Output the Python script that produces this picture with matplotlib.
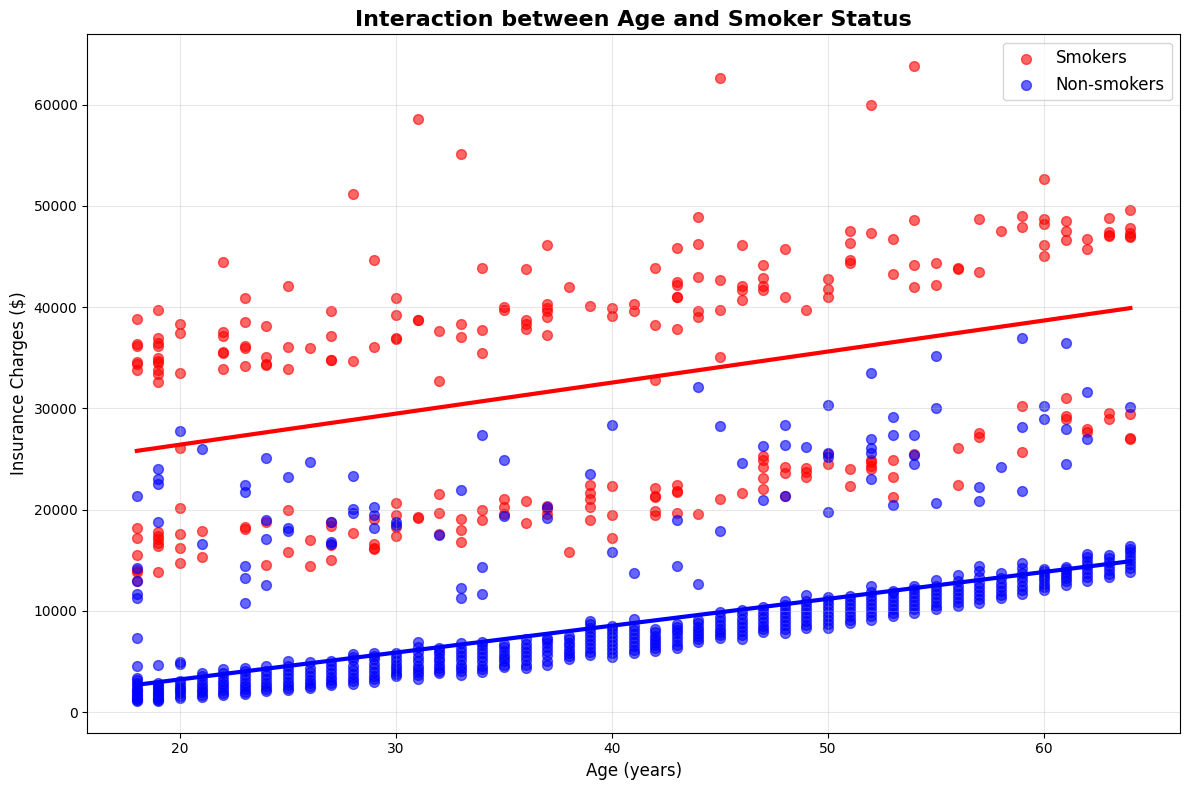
import numpy as np
import matplotlib
matplotlib.use("Agg")
import matplotlib.pyplot as plt

# smokers: ages and charges
smoker_age = [
    18, 18, 18, 18, 18, 18, 18, 18, 18, 18, 18, 18,
    19, 19, 19, 19, 19, 19, 19, 19, 19, 19, 19, 19, 19, 19, 19, 19,
    20, 20, 20, 20, 20, 20, 20, 20,
    21, 21,
    22, 22, 22, 22, 22, 22,
    23, 23, 23, 23, 23, 23, 23,
    24, 24, 24, 24, 24, 24,
    25, 25, 25, 25, 25,
    26, 26, 26,
    27, 27, 27, 27, 27, 27, 27, 27,
    28, 28, 28,
    29, 29, 29, 29, 29, 29,
    30, 30, 30, 30, 30, 30, 30, 30,
    31, 31, 31, 31, 31,
    32, 32, 32, 32, 32,
    33, 33, 33, 33, 33, 33,
    34, 34, 34, 34, 34,
    35, 35, 35, 35, 35,
    36, 36, 36, 36, 36, 36,
    37, 37, 37, 37, 37, 37, 37, 37, 37,
    38, 38,
    39, 39, 39, 39, 39, 39,
    40, 40, 40, 40, 40,
    41, 41,
    42, 42, 42, 42, 42, 42, 42, 42,
    43, 43, 43, 43, 43, 43, 43, 43, 43, 43,
    44, 44, 44, 44, 44, 44,
    45, 45, 45, 45, 45,
    46, 46, 46, 46, 46,
    47, 47, 47, 47, 47, 47, 47, 47, 47,
    48, 48, 48, 48, 48,
    49, 49, 49, 49,
    50, 50, 50, 50, 50,
    51, 51, 51, 51, 51, 51,
    52, 52, 52, 52, 52, 52,
    53, 53, 53, 53, 53,
    54, 54, 54, 54, 54,
    55, 55,
    56, 56, 56, 56,
    57, 57, 57, 57,
    58,
    59, 59, 59, 59,
    60, 60, 60, 60, 60,
    61, 61, 61, 61, 61, 61,
    62, 62, 62, 62,
    63, 63, 63, 63, 63, 63,
    64, 64, 64, 64, 64, 64, 64, 64,
]
smoker_charge = [
    38800, 36400, 36200, 34600, 34400, 33800, 18200, 17200, 15500, 14000, 13800, 12900,
    39700, 36900, 36500, 36200, 35000, 34700, 34500, 33800, 33400, 32600, 17800, 17400, 17100, 16700, 16400, 13800,
    38300, 37400, 33500, 26100, 20200, 17600, 16200, 14700,
    17900, 15300,
    44500, 37500, 37100, 35600, 35500, 33900,
    40900, 38500, 36200, 36000, 34200, 18300, 18100,
    38100, 35100, 34400, 34300, 18800, 14500,
    42100, 36100, 33900, 20000, 15800,
    36000, 17000, 14400,
    39600, 37100, 34800, 34800, 18800, 18400, 16500, 15000,
    51200, 34700, 17700,
    44600, 36100, 19100, 16600, 16100, 16200,
    40900, 39200, 36900, 36800, 20700, 19500, 18300, 17400,
    58600, 38700, 38700, 19300, 19200,
    37600, 32700, 21500, 19700, 17600,
    55100, 38300, 37000, 19100, 18000, 16800,
    43900, 37700, 35500, 20000, 19000,
    40000, 39700, 21000, 20300, 19600,
    43800, 38700, 38300, 37800, 20800, 18700,
    46100, 40300, 39900, 39600, 39000, 37200, 20400, 20100, 19600,
    42000, 15800,
    40100, 22400, 21600, 21000, 20300, 19000,
    39900, 39100, 22300, 19500, 17200,
    40300, 39600,
    43900, 38200, 32800, 22100, 21300, 21200, 19900, 19500,
    45800, 42500, 42200, 41000, 41000, 37800, 22400, 21800, 21700, 19700,
    48900, 46200, 43000, 39600, 39000, 19600,
    62600, 42700, 39700, 35100, 21000,
    46100, 42100, 41700, 40700, 21600,
    44200, 42900, 42100, 41700, 25300, 24900, 24200, 23100, 22000,
    45700, 41000, 24200, 23600, 21300,
    39700, 24100, 23700, 23200,
    42800, 41800, 41000, 25500, 24500,
    47500, 46300, 44600, 44400, 24000, 22300,
    60000, 47300, 24900, 24700, 24300, 24000,
    46700, 43300, 24900, 23200, 21200,
    63800, 48600, 44200, 42000, 25500,
    44400, 42200,
    43900, 43800, 26100, 22400,
    48700, 43500, 27600, 27200,
    47500,
    49000, 47900, 30200, 25700,
    52600, 48700, 48200, 46100, 45000,
    48500, 47500, 46600, 31000, 29200, 28900,
    46700, 45700, 28000, 27700,
    48800, 47400, 47100, 47000, 29500, 28900,
    49600, 47800, 47300, 47000, 46900, 29400, 27100, 27000,
]

# non-smokers: main band per age
band_ages = list(range(18, 65))
band_charges = [
    [1100, 1150, 1250, 1400, 1600, 1700, 1900, 2100, 2200, 2400, 2700, 2900, 3200, 3400],
    [1100, 1200, 1250, 1400, 1600, 1750, 1900, 2100, 2300, 2500, 2700, 2900],
    [1400, 1600, 1900, 2100, 2300, 2500, 2800, 3100],
    [1500, 1700, 2000, 2200, 2500, 2800, 3200, 3600, 3900],
    [1700, 1900, 2200, 2500, 2800, 3100, 3500, 3900, 4300],
    [1800, 2000, 2300, 2600, 2900, 3300, 3700, 4100, 4400],
    [2100, 2300, 2600, 2900, 3300, 3700, 4100, 4600],
    [2200, 2400, 2700, 3000, 3400, 3800, 4200, 4600, 5000],
    [2400, 2600, 2900, 3200, 3600, 4000, 4400, 4900],
    [2700, 2900, 3200, 3500, 3900, 4300, 4700, 5000],
    [2800, 3100, 3400, 3800, 4200, 4600, 5100, 5400, 5700],
    [3000, 3300, 3600, 4000, 4400, 4800, 5200, 5500, 5800],
    [3600, 3800, 4100, 4400, 4700, 5000, 5400, 5800],
    [3300, 3700, 4000, 4300, 4600, 5000, 5400, 5900, 6400, 6900],
    [3900, 4100, 4400, 4700, 5000, 5300, 5700, 6000, 6300],
    [3700, 4100, 4400, 4700, 5100, 5500, 5900, 6300, 6800],
    [4000, 4300, 4600, 5000, 5400, 5800, 6200, 6600, 6900],
    [4500, 4700, 5000, 5300, 5600, 6000, 6400, 6700],
    [4400, 4700, 5100, 5500, 5900, 6300, 6700, 7200],
    [4700, 5000, 5600, 6000, 6400, 6800, 7100, 7300],
    [5200, 5500, 5800, 6100, 6500, 6800, 7200, 7500],
    [5600, 5900, 6300, 6700, 7100, 7500, 7900, 8300, 8700, 9000],
    [5400, 5800, 6200, 6600, 7000, 7400, 7800, 8200, 8500],
    [5800, 6100, 6500, 6900, 7300, 7700, 8100, 8500, 9200],
    [6000, 6300, 6600, 6900, 7200, 7500, 7900, 8200],
    [6300, 6600, 7000, 7400, 7800, 8100, 8400, 8700],
    [6900, 7200, 7500, 7800, 8100, 8400, 8800, 9100],
    [7300, 7600, 7900, 8200, 8600, 9000, 9400, 9900],
    [7200, 7600, 8000, 8400, 8800, 9200, 9700, 10100],
    [7900, 8200, 8500, 8900, 9300, 9700, 10100, 10400],
    [7800, 8200, 8600, 9000, 9400, 9800, 10200, 10600, 11000],
    [8300, 8600, 9000, 9400, 9800, 10200, 10600, 11000, 11600],
    [8300, 8700, 9100, 9500, 9900, 10300, 10700, 11100, 11400],
    [8800, 9100, 9500, 9900, 10300, 10700, 11100, 11500],
    [9100, 9500, 9900, 10300, 10700, 11100, 11500, 11900, 12500],
    [9500, 9800, 10200, 10600, 11000, 11400, 11800, 12000],
    [9800, 10200, 10600, 11000, 11400, 11800, 12200, 12500],
    [10200, 10500, 10900, 11300, 11700, 12100, 12500, 13000],
    [10500, 10900, 11300, 11700, 12100, 12500, 12900, 13500],
    [10800, 11200, 11600, 12000, 12400, 12800, 13300, 13900, 14400],
    [11300, 11600, 12000, 12400, 12800, 13200, 13700],
    [11700, 12100, 12500, 12900, 13300, 13700, 14200, 14700],
    [12100, 12400, 12700, 13000, 13300, 13600, 13900, 14100],
    [12600, 12900, 13200, 13500, 13800, 14100, 14300],
    [12900, 13300, 13700, 14100, 14500, 14900, 15300, 15600],
    [13300, 13600, 14000, 14400, 14800, 15200, 15500],
    [13800, 14200, 14600, 15000, 15400, 15800, 16100, 16400],
]

# non-smokers above the main band
outlier_age = [
    18, 18, 18, 18, 18, 18, 18,
    19, 19, 19, 19, 19,
    20, 20, 20,
    21, 21,
    23, 23, 23, 23, 23,
    24, 24, 24, 24,
    25, 25, 25,
    26,
    27, 27, 27,
    28, 28, 28,
    29, 29, 29,
    30, 30,
    32,
    33, 33, 33,
    34, 34, 34,
    35, 35,
    37, 37,
    39,
    40, 40,
    41,
    43, 43,
    44, 44,
    45, 45,
    46,
    47, 47,
    48, 48, 48,
    49,
    50, 50, 50, 50,
    52, 52, 52, 52, 52,
    53, 53, 53,
    54, 54, 54,
    55, 55, 55,
    57, 57,
    58,
    59, 59, 59,
    60, 60,
    61, 61, 61,
    62, 62,
    64,
]
outlier_charge = [
    21300, 14200, 12900, 11700, 11300, 7300, 4600,
    24000, 23000, 22500, 18800, 4700,
    27800, 4900, 4800,
    26000, 16600,
    22400, 21700, 14400, 13200, 10800,
    25100, 19000, 17100, 12600,
    23200, 18200, 17900,
    24700,
    18800, 16800, 16600,
    23300, 20100, 19700,
    20300, 19500, 18200,
    18800, 18500,
    17500,
    21900, 12300, 11300,
    27400, 14300, 11700,
    24900, 19400,
    20300, 19200,
    23500,
    28400, 15800,
    13700,
    19000, 14400,
    32100, 12700,
    28300, 17900,
    24600,
    26300, 20900,
    28400, 26400, 21300,
    26200,
    30300, 25600, 25200, 19800,
    33500, 27000, 26100, 25600, 23000,
    29100, 27400, 20500,
    27400, 25400, 24500,
    35200, 30000, 20700,
    22200, 20800,
    24200,
    36900, 28200, 21800,
    30200, 28900,
    36500, 28000, 24500,
    31600, 27000,
    30100,
]

# trend lines (ends at age 18 and 64)
trend_ages = [18, 64]
smoker_trend = [25800, 39900]
nonsmoker_trend = [2700, 14900]

ns_age = [a for a, vals in zip(band_ages, band_charges) for v in vals] + outlier_age
ns_charge = [v for vals in band_charges for v in vals] + outlier_charge

fig, ax = plt.subplots(figsize=(12, 8), dpi=100)
ax.scatter(smoker_age, smoker_charge, c='red', alpha=0.6, s=50, label='Smokers')
ax.scatter(ns_age, ns_charge, c='blue', alpha=0.6, s=50, label='Non-smokers')

ax.plot(trend_ages, smoker_trend, color='red', linewidth=3)
ax.plot(trend_ages, nonsmoker_trend, color='blue', linewidth=3)

ax.set_title('Interaction between Age and Smoker Status', fontsize=16, fontweight='bold')
ax.set_xlabel('Age (years)', fontsize=12)
ax.set_ylabel('Insurance Charges ($)', fontsize=12)
ax.legend(fontsize=12)
ax.grid(True, alpha=0.3)
plt.tight_layout()
plt.savefig('out.png', bbox_inches='tight')
